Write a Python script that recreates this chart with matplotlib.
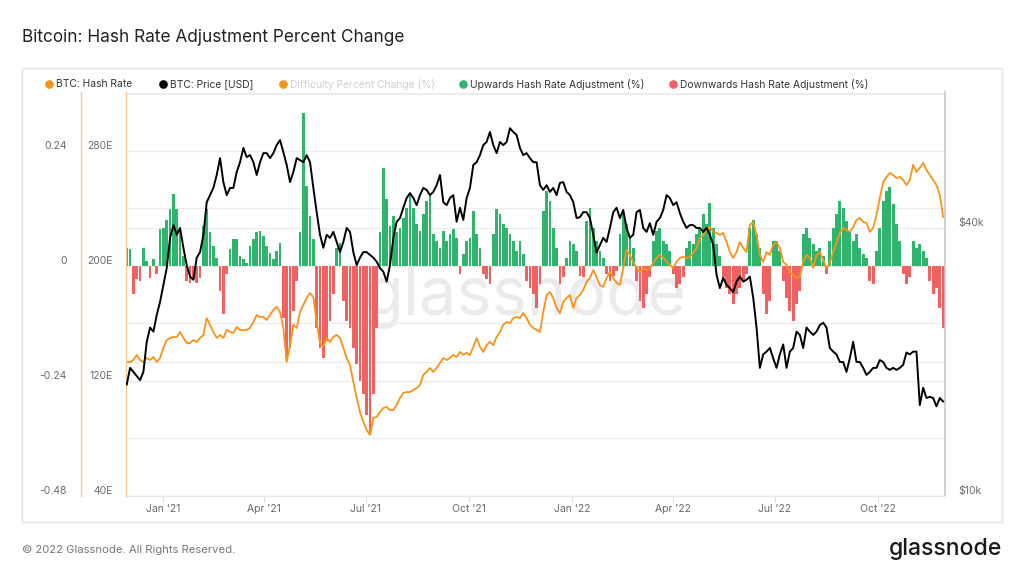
import numpy as np
import pandas as pd
import matplotlib
matplotlib.use('Agg')
import matplotlib.pyplot as plt
from matplotlib import transforms
from matplotlib.lines import Line2D
from matplotlib.patches import Rectangle

plt.rcParams['font.family'] = ['Inter', 'DejaVu Sans']

# ---------------- data ----------------
start_date = '2020-11-29 16:00'
end_date = '2022-11-28 08:00'

# BTC price (thousand USD)
price_k = [
    17.8, 19.4, 19.0, 18.6, 18.2, 19.0, 22.2, 23.9, 23.4, 25.5,
    27.3, 29.8, 32.5, 38.0, 40.6, 38.6, 40.0, 36.1, 33.0, 31.1,
    30.6, 34.3, 35.3, 38.6, 45.7, 47.4, 49.2, 52.6, 57.4, 50.7,
    47.4, 49.2, 49.2, 53.4, 56.2, 60.5, 57.7, 58.3, 56.2, 52.6,
    56.2, 58.9, 58.9, 57.4, 58.9, 61.4, 63.0, 59.2, 55.4, 50.7,
    53.4, 57.4, 56.8, 56.2, 58.3, 56.2, 49.2, 43.4, 38.6, 36.1,
    38.6, 38.0, 39.2, 37.2, 35.3, 37.2, 40.0, 39.2, 35.3, 33.0,
    34.3, 35.3, 35.3, 34.8, 34.3, 33.6, 32.5, 31.9, 30.3, 33.0,
    38.0, 41.3, 42.1, 44.4, 46.7, 47.9, 46.7, 45.0, 47.4, 49.2,
    48.7, 47.4, 48.2, 49.9, 52.6, 45.7, 45.0, 46.7, 47.4, 41.3,
    44.4, 41.7, 46.7, 49.2, 55.4, 56.2, 58.3, 61.4, 62.4, 65.7,
    61.4, 58.9, 62.4, 61.4, 62.4, 67.0, 65.7, 64.7, 60.5, 58.3,
    58.9, 57.4, 56.2, 56.2, 49.9, 48.7, 49.9, 48.2, 49.2, 47.4,
    50.5, 50.7, 48.2, 47.4, 45.7, 42.1, 42.3, 43.4, 43.4, 42.1,
    38.6, 35.2, 36.6, 38.0, 37.2, 40.0, 43.4, 44.4, 42.1, 43.9,
    40.0, 38.0, 38.6, 43.4, 43.9, 40.0, 39.2, 41.0, 38.6, 41.3,
    42.1, 43.9, 47.4, 46.7, 45.0, 45.7, 43.2, 41.3, 40.0, 40.6,
    40.6, 40.0, 40.0, 39.2, 40.0, 38.6, 36.6, 31.4, 29.3, 30.9,
    29.8, 29.3, 28.7, 30.3, 31.1, 30.3, 30.6, 31.1, 27.9, 23.9,
    19.4, 20.8, 21.1, 21.5, 20.4, 19.4, 20.8, 21.9, 19.4, 21.1,
    21.5, 23.4, 23.0, 21.5, 23.9, 23.4, 23.0, 23.4, 24.2, 24.5,
    23.9, 21.5, 21.1, 20.8, 20.0, 20.0, 19.0, 20.4, 22.2, 20.0,
    20.0, 19.4, 18.7, 19.0, 19.4, 19.4, 20.2, 20.0, 19.4, 19.2,
    19.4, 19.2, 19.4, 19.7, 21.0, 20.8, 21.1, 21.1, 16.0, 17.5,
    16.6, 16.7, 16.6, 15.9, 16.6, 16.3,
]

# BTC hash rate (EH/s)
hash_eh = [
    133.2, 133.2, 134.6, 138.1, 134.6, 133.2, 136.0, 134.6, 136.7, 133.2,
    136.0, 143.0, 148.5, 149.9, 150.6, 150.6, 154.1, 149.9, 146.4, 146.4,
    148.5, 147.1, 149.9, 152.0, 163.8, 159.0, 154.1, 149.9, 152.0, 149.9,
    155.5, 154.1, 153.4, 157.6, 155.5, 155.5, 155.5, 156.9, 161.0, 165.9,
    164.5, 164.5, 162.4, 165.9, 169.4, 171.5, 168.0, 156.9, 133.2, 145.0,
    159.0, 156.9, 168.0, 172.9, 177.7, 181.2, 178.4, 161.0, 146.4, 143.7,
    149.9, 147.1, 150.6, 152.0, 149.9, 143.0, 136.0, 131.1, 119.3, 108.2,
    98.4, 91.5, 85.9, 82.4, 94.3, 95.0, 98.4, 101.2, 101.9, 99.8,
    99.8, 103.3, 108.2, 111.7, 112.3, 112.3, 113.7, 115.1, 117.2, 124.2,
    126.3, 129.0, 126.3, 129.0, 132.5, 136.0, 134.6, 136.0, 138.1, 136.7,
    140.2, 138.1, 139.5, 138.1, 143.7, 149.9, 143.7, 140.2, 145.0, 147.1,
    145.0, 150.6, 154.1, 159.0, 161.0, 160.3, 163.8, 164.5, 163.8, 167.3,
    163.8, 159.0, 156.9, 155.5, 154.1, 168.0, 179.8, 181.9, 177.7, 170.8,
    167.3, 175.0, 177.7, 179.8, 170.8, 177.7, 179.8, 183.3, 188.9, 191.7,
    197.2, 192.3, 186.8, 185.4, 191.7, 195.8, 191.7, 188.2, 186.8, 198.6,
    211.1, 207.7, 202.8, 198.6, 195.8, 198.6, 197.2, 198.6, 202.1, 205.6,
    207.7, 205.6, 202.8, 200.7, 198.6, 202.8, 205.6, 206.3, 205.6, 206.3,
    209.0, 212.5, 219.5, 221.6, 225.0, 227.1, 223.7, 223.0, 221.6, 223.0,
    216.7, 209.7, 205.6, 209.7, 216.7, 212.5, 209.7, 228.5, 230.6, 221.6,
    207.7, 202.8, 209.7, 207.7, 214.6, 216.7, 212.5, 202.8, 200.7, 195.8,
    193.7, 191.7, 192.3, 202.8, 207.7, 205.6, 198.6, 207.7, 209.7, 204.2,
    198.6, 202.1, 209.7, 216.7, 223.0, 226.4, 225.0, 223.7, 227.1, 232.0,
    233.4, 230.6, 229.9, 223.7, 226.4, 235.5, 247.3, 258.4, 261.9, 264.7,
    263.3, 261.2, 261.9, 259.8, 256.3, 259.8, 270.3, 265.4, 268.2, 271.7,
    266.8, 263.3, 259.8, 256.3, 249.4, 234.1,
]

# Hash rate adjustment (fraction); positive = upwards, negative = downwards
adjustment = [
    0.038, 0.035, -0.059, -0.028, -0.031, 0.038, 0.010, -0.025, 0.014, -0.017,
    0.077, 0.080, 0.097, 0.118, 0.150, 0.118, 0.073, 0.021, -0.031, -0.035,
    -0.028, -0.035, -0.025, 0.083, 0.118, 0.070, 0.042, 0.017, -0.052, -0.101,
    -0.017, 0.035, 0.056, 0.056, 0.021, 0.014, 0.007, 0.042, 0.056, 0.070,
    0.073, 0.063, 0.042, 0.028, 0.014, 0.031, 0.049, -0.108, -0.190, -0.171,
    -0.094, -0.031, 0.070, 0.320, 0.167, 0.104, 0.056, -0.129, -0.171, -0.192,
    -0.157, -0.115, -0.059, 0.038, 0.049, -0.073, -0.115, -0.129, -0.171, -0.205,
    -0.240, -0.268, -0.310, -0.351, -0.268, -0.129, 0.070, 0.205, 0.139, 0.083,
    0.104, 0.070, 0.080, 0.101, 0.122, 0.153, 0.122, 0.087, 0.073, 0.108,
    0.136, 0.150, 0.066, 0.052, 0.038, 0.073, 0.052, 0.066, 0.077, 0.059,
    -0.017, 0.024, 0.052, 0.059, 0.115, 0.066, 0.038, -0.017, -0.028, -0.038,
    0.066, 0.118, 0.108, 0.087, 0.080, 0.066, 0.052, 0.031, 0.052, 0.024,
    -0.031, -0.045, -0.059, -0.087, -0.038, 0.115, 0.157, 0.136, 0.080, 0.038,
    -0.038, -0.024, 0.017, 0.052, 0.045, 0.031, -0.021, -0.024, 0.094, 0.122,
    0.080, 0.052, 0.031, 0.017, -0.017, -0.031, -0.020, -0.010, 0.066, 0.108,
    0.087, 0.059, 0.038, -0.031, -0.073, -0.087, -0.059, -0.024, 0.052, 0.073,
    0.080, 0.052, 0.045, 0.031, -0.017, -0.045, -0.038, -0.024, 0.038, 0.052,
    0.045, 0.066, 0.080, 0.108, 0.087, 0.132, 0.080, 0.045, 0.021, -0.024,
    -0.045, -0.059, -0.080, -0.059, -0.045, -0.031, -0.017, 0.080, 0.097, 0.066,
    0.038, -0.059, -0.101, -0.073, 0.052, 0.052, 0.031, -0.031, -0.066, -0.094,
    -0.115, -0.080, -0.052, 0.066, 0.080, 0.059, 0.045, 0.031, 0.038, 0.021,
    -0.017, 0.052, 0.080, 0.108, 0.136, 0.122, 0.094, 0.073, 0.052, 0.066,
    0.038, 0.024, 0.017, -0.031, -0.038, 0.031, 0.080, 0.136, 0.157, 0.164,
    0.129, 0.087, 0.052, -0.017, -0.038, -0.024, 0.052, 0.038, 0.045, 0.031,
    0.017, -0.031, -0.059, -0.045, -0.087, -0.129,
]

x_tick_dates = ['2021-01-01', '2021-04-01', '2021-07-01', '2021-10-01',
                '2022-01-01', '2022-04-01', '2022-07-01', '2022-10-01']
x_tick_labels = ["Jan '21", "Apr '21", "Jul '21", "Oct '21",
                 "Jan '22", "Apr '22", "Jul '22", "Oct '22"]
pct_ticks = [0.24, 0.0, -0.24, -0.48]
pct_labels = ['0.24', '0', '-0.24', '-0.48']
hash_ticks = [280, 200, 120, 40]
hash_labels = ['280E', '200E', '120E', '40E']
price_ticks = [40000, 10000]
price_labels = ['$40k', '$10k']

legend_items = [
    ('BTC: Hash Rate', '#f7931a', '#333333'),
    ('BTC: Price [USD]', '#000000', '#333333'),
    ('Difficulty Percent Change (%)', '#f7931a', '#cfcfcf'),
    ('Upwards Hash Rate Adjustment (%)', '#2fb36d', '#333333'),
    ('Downwards Hash Rate Adjustment (%)', '#f06262', '#333333'),
]

n = min(len(price_k), len(hash_eh), len(adjustment))
dates = pd.date_range(start_date, end_date, periods=n)
price = np.array(price_k[:n]) * 1000.0
hashrate = np.array(hash_eh[:n])
adj = np.array(adjustment[:n])

# ---------------- layout ----------------
W, H = 1024, 576
def fx(px):
    return px / W
def fy(py):
    return 1 - py / H

GREEN = '#2fb36d'
RED = '#f06262'
ORANGE = '#f7931a'
PALE_ORANGE = '#f8c796'
GRID = '#ececec'
LABEL = '#6b6b6b'

fig = plt.figure(figsize=(W / 100, H / 100), dpi=100)
fig.patch.set_facecolor('white')

# card frame
fig.add_artist(Rectangle((fx(22), fy(522)), 980 / W, 454 / H, transform=fig.transFigure,
                         fill=False, edgecolor='#e4e4e4', linewidth=1.0))

rect = [fx(126), fy(496), (945 - 126) / W, (496 - 92) / H]
xlim = (pd.Timestamp('2020-11-29'), pd.Timestamp('2022-11-30'))
pct_lim = (-0.48, 0.3631)
hash_lim = (40, 321.0)
price_lim = (10000, 80800)

# background axes: price grid
ax_bg = fig.add_axes(rect, zorder=0)
ax_bg.set_yscale('log')
ax_bg.set_ylim(*price_lim)
ax_bg.set_xlim(*xlim)
ax_bg.set_yticks([10000, 20000, 40000, 80000])
ax_bg.yaxis.set_minor_locator(matplotlib.ticker.NullLocator())
ax_bg.grid(axis='y', color=GRID, linewidth=0.9)
ax_bg.tick_params(axis='both', length=0, labelleft=False, labelbottom=False)
for s in ax_bg.spines.values():
    s.set_visible(False)

# percent axes: bars
ax = fig.add_axes(rect, zorder=1)
ax.patch.set_visible(False)
ax.set_xlim(*xlim)
ax.set_ylim(*pct_lim)
ax.set_yticks(np.round(np.arange(-0.48, 0.37, 0.12), 2))
ax.set_axisbelow(True)
ax.grid(axis='y', color=GRID, linewidth=0.9)
ax.grid(axis='x', visible=False)
ax.tick_params(axis='y', length=0, labelleft=False)
colors = [GREEN if v >= 0 else RED for v in adj]
ax.bar(dates, adj, width=2.5, color=colors, linewidth=0, zorder=2)
ax.spines['top'].set_visible(False)
ax.spines['right'].set_color('#c9c9c9')
ax.spines['right'].set_linewidth(1.2)
ax.spines['bottom'].set_color('#e8e8e8')
ax.spines['left'].set_position(('outward', 45 * 72 / 100))
ax.spines['left'].set_color(PALE_ORANGE)
ax.spines['left'].set_linewidth(1.0)
ax.set_xticks(pd.to_datetime(x_tick_dates))
ax.set_xticklabels(x_tick_labels)
ax.tick_params(axis='x', length=4, color='#dddddd', labelsize=7.5, labelcolor=LABEL, pad=2)

# watermark
ax.text(fx(525), fy(315), 'glassnode', transform=fig.transFigure, ha='center', va='baseline',
        fontsize=48, color='#ebebeb', zorder=0.6)

# hash rate axes
ax_h = fig.add_axes(rect, zorder=2, sharex=ax)
ax_h.patch.set_visible(False)
ax_h.set_ylim(*hash_lim)
ax_h.plot(dates, hashrate, color=ORANGE, linewidth=1.3, solid_joinstyle='round')
for side in ['top', 'right', 'bottom']:
    ax_h.spines[side].set_visible(False)
ax_h.spines['left'].set_color(PALE_ORANGE)
ax_h.spines['left'].set_linewidth(1.0)
ax_h.tick_params(axis='both', length=0, labelleft=False, labelbottom=False)

# price axes
ax_p = fig.add_axes(rect, zorder=3, sharex=ax)
ax_p.patch.set_visible(False)
ax_p.set_yscale('log')
ax_p.set_ylim(*price_lim)
ax_p.plot(dates, price, color='black', linewidth=1.4, solid_joinstyle='round')
for s in ax_p.spines.values():
    s.set_visible(False)
ax_p.yaxis.set_minor_locator(matplotlib.ticker.NullLocator())
ax_p.tick_params(axis='both', which='both', length=0, labelleft=False, labelbottom=False)
ax.set_xlim(*xlim)

# y tick labels (drawn slightly above their gridlines, as in the reference)
def label_trans(a):
    base = transforms.blended_transform_factory(a.transAxes, a.transData)
    return transforms.offset_copy(base, fig=fig, x=0, y=5, units='dots')

for v, lab in zip(pct_ticks, pct_labels):
    ax.text((67 - 126) / 819, v, lab, transform=label_trans(ax), ha='right', va='center',
            fontsize=7.5, color=LABEL, clip_on=False)
for v, lab in zip(hash_ticks, hash_labels):
    ax_h.text((113 - 126) / 819, v, lab, transform=label_trans(ax_h), ha='right', va='center',
              fontsize=7.5, color=LABEL, clip_on=False)
for v, lab in zip(price_ticks, price_labels):
    ax_p.text((958 - 126) / 819, v, lab, transform=label_trans(ax_p), ha='left', va='center',
              fontsize=7.5, color=LABEL, clip_on=False)

# legend
legend_x = [49, 163, 283, 463, 673]
for (txt, mcol, tcol), px in zip(legend_items, legend_x):
    fig.add_artist(Line2D([fx(px)], [fy(84)], marker='o', markersize=5.2, color=mcol,
                          linestyle='none', transform=fig.transFigure))
    fig.text(fx(px + 7.5), fy(84), txt, ha='left', va='center', fontsize=7.4, color=tcol)

# title & footer
fig.text(fx(22), fy(37), 'Bitcoin: Hash Rate Adjustment Percent Change', ha='left', va='center',
         fontsize=12.4, color='#222222')
fig.text(fx(22), fy(550), '\u00a9 2022 Glassnode. All Rights Reserved.', ha='left', va='center',
         fontsize=8.1, color='#777777')
fig.text(fx(1002), fy(549), 'glassnode', ha='right', va='center', fontsize=16.5,
         color='#1a1a1a', fontweight='medium')

fig.savefig('out.png', dpi=100, facecolor='white')
